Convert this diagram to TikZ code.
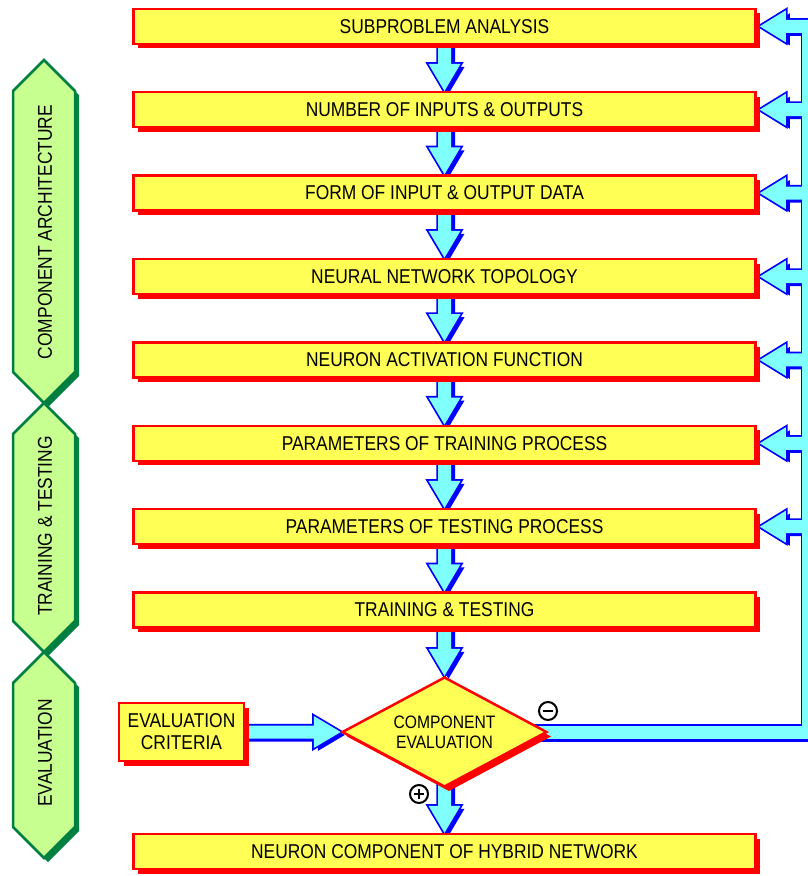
\documentclass[tikz,border=0pt]{standalone}
\usepackage{fontspec}
\setmainfont{Liberation Sans}[FakeStretch=0.87]
\usetikzlibrary{shapes.geometric,shadows,calc}
\pgfdeclarelayer{bg}
\pgfsetlayers{bg,main}

\definecolor{boxyellow}{RGB}{255,255,85}
\definecolor{boxred}{RGB}{255,0,0}
\definecolor{arrcyan}{RGB}{128,255,255}
\definecolor{arrblue}{RGB}{0,0,255}
\definecolor{bannerfill}{RGB}{200,255,145}
\definecolor{bannergreen}{RGB}{0,128,64}

\tikzset{
  redshadow/.style={drop shadow={shadow xshift=4.5pt, shadow yshift=-4.5pt, fill=boxred, opacity=1}},
  stepbox/.style={draw=boxred, line width=2.5pt, fill=boxyellow, redshadow,
    minimum width=622pt, minimum height=35pt, inner sep=0pt,
    font=\fontsize{20}{22}\selectfont},
  critbox/.style={draw=boxred, line width=2.5pt, fill=boxyellow, redshadow,
    minimum width=125pt, minimum height=58pt, inner sep=0pt, align=center,
    font=\fontsize{20}{22}\selectfont},
  decision/.style={diamond, aspect=1.86, draw=boxred, line width=2.5pt, fill=boxyellow, redshadow,
    minimum width=205pt, minimum height=110pt, inner sep=0pt, align=center,
    font=\fontsize{18}{20}\selectfont},
  bannershape/.style={fill=bannerfill, draw=bannergreen, line width=2.5pt, line join=miter},
  bannertext/.style={rotate=90, inner sep=0pt, font=\fontsize{20}{22}\selectfont},
  signcircle/.style={circle, draw=black, line width=2pt, minimum size=18pt, inner sep=0pt},
}

% hexagonal banner on the left: #1 top point, #2 bottom point (y grows downwards)
\newcommand\bannerpath[3]{%
  \path[#3] (44,#1) -- (75,#1+31) -- (75,#2-31) -- (44,#2) -- (13,#2-31) -- (13,#1+31) -- cycle;}
\newcommand\banner[2]{%
  \begin{scope}[shift={(4,4)}]\bannerpath{#1}{#2}{fill=bannergreen}\end{scope}
  \bannerpath{#1}{#2}{bannershape}}

% every block arrow of the chart, drawn with the path style #1
\newcommand\arrowshapes[1]{%
  \foreach \pa/\pb in {b1/b2,b2/b3,b3/b4,b4/b5,b5/b6,b6/b7,b7/b8,b8/d}{
    \path[#1] ($(\pa.south)+(-6.5,-3)$) -- ($(\pb.north)+(-6.5,-27)$) -- ($(\pb.north)+(-16,-27)$)
      -- (\pb.north) -- ($(\pb.north)+(16,-27)$) -- ($(\pb.north)+(6.5,-27)$)
      -- ($(\pa.south)+(6.5,-3)$) -- cycle;
  }
  \path[#1] ($(d.south)+(-6.5,-15)$) -- ($(b9.north)+(-6.5,-27)$) -- ($(b9.north)+(-16,-27)$)
      -- (b9.north) -- ($(b9.north)+(16,-27)$) -- ($(b9.north)+(6.5,-27)$)
      -- ($(d.south)+(6.5,-15)$) -- cycle;
  \path[#1] ($(crit.east)+(-3,-6.5)$) -- ($(d.west)+(-27,-6.5)$) -- ($(d.west)+(-27,-16)$)
      -- (d.west) -- ($(d.west)+(-27,16)$) -- ($(d.west)+(-27,6.5)$)
      -- ($(crit.east)+(-3,6.5)$) -- cycle;
  % feedback rail from the decision back to every design step
  \path[#1] ($(d.east)+(-15,-6.5)$) rectangle ($(d.east -| rail)+(8,6.5)$);
  \path[#1] ($(rail)+(-8,0)$) rectangle ($(d.east -| rail)+(8,6.5)$);
  \foreach \pb in {b1,b2,b3,b4,b5,b6,b7}{
    \path[#1] ($(\pb.east)+(3,0)$) -- ($(\pb.east)+(29,-16)$) -- ($(\pb.east)+(29,-6.5)$)
      -- ($(\pb.east -| rail)+(0,-6.5)$) -- ($(\pb.east -| rail)+(0,6.5)$)
      -- ($(\pb.east)+(29,6.5)$) -- ($(\pb.east)+(29,16)$) -- cycle;
  }
}

\begin{document}
\begin{tikzpicture}[x=1pt, y=-1pt]
  \useasboundingbox (0,0) rectangle (807,876);
  \clip (0,0) rectangle (807,876);

  % phase banners
  \banner{60}{403}
  \banner{403}{652}
  \banner{652}{858}
  \node[bannertext] (t1) at (45,232) {COMPONENT ARCHITECTURE};
  \node[bannertext] (t2) at (45,526) {TRAINING \& TESTING};
  \node[bannertext] (t3) at (45,753) {EVALUATION};

  % design steps
  \node[stepbox] (b1) at (444.5,26.3)  {SUBPROBLEM ANALYSIS};
  \node[stepbox] (b2) at (444.5,109.7) {NUMBER OF INPUTS \& OUTPUTS};
  \node[stepbox] (b3) at (444.5,193.1) {FORM OF INPUT \& OUTPUT DATA};
  \node[stepbox] (b4) at (444.5,276.5) {NEURAL NETWORK TOPOLOGY};
  \node[stepbox] (b5) at (444.5,359.9) {NEURON ACTIVATION FUNCTION};
  \node[stepbox] (b6) at (444.5,443.3) {PARAMETERS OF TRAINING PROCESS};
  \node[stepbox] (b7) at (444.5,526.7) {PARAMETERS OF TESTING PROCESS};
  \node[stepbox] (b8) at (444.5,610.1) {TRAINING \& TESTING};
  \node[decision] (d) at (444.5,732) {COMPONENT\\EVALUATION};
  \node[critbox] (crit) at (181.5,732) {EVALUATION\\CRITERIA};
  \node[stepbox] (b9) at (444.5,851.5) {NEURON COMPONENT OF HYBRID NETWORK};
  \coordinate (rail) at ($(b1.east)+(53.5,-6.5)$);

  % outcome signs
  \node[signcircle] (minus) at (548,711) {};
  \draw[line width=2.4pt] ($(minus.center)+(-5,0)$) -- ($(minus.center)+(5,0)$);
  \node[signcircle] (plus) at (419,794) {};
  \draw[line width=2.2pt] ($(plus.center)+(-5,0)$) -- ($(plus.center)+(5,0)$)
    ($(plus.center)+(0,-5)$) -- ($(plus.center)+(0,5)$);

  % block arrows behind the boxes
  \begin{pgfonlayer}{bg}
    \begin{scope}[transform canvas={xshift=4pt, yshift=-3pt}]
      \arrowshapes{fill=arrblue}
    \end{scope}
    \arrowshapes{draw=arrblue, line width=3.5pt, line join=miter}
    \arrowshapes{fill=arrcyan}
  \end{pgfonlayer}
\end{tikzpicture}
\end{document}
